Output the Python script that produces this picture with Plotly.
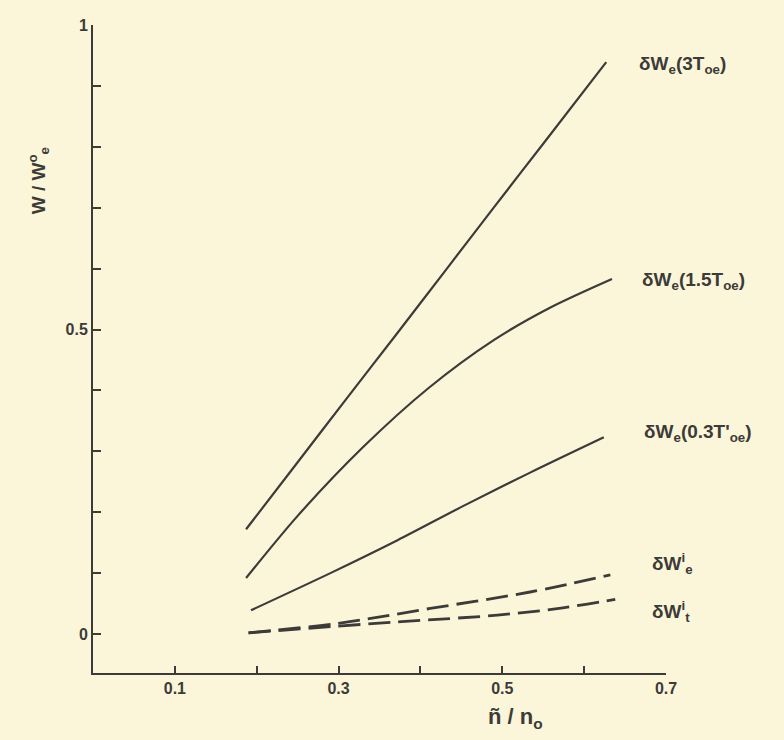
import plotly.graph_objects as go

# Data
x_3T = [0.187, 0.250, 0.310, 0.370, 0.430, 0.490, 0.550, 0.627]
y_3T = [0.172, 0.282, 0.387, 0.491, 0.596, 0.701, 0.805, 0.939]

x_15T = [0.187, 0.250, 0.330, 0.410, 0.490, 0.560, 0.634]
y_15T = [0.092, 0.194, 0.307, 0.404, 0.483, 0.537, 0.583]

x_03T = [0.193, 0.290, 0.372, 0.452, 0.534, 0.624]
y_03T = [0.039, 0.100, 0.154, 0.210, 0.265, 0.323]

x_Wei = [0.190, 0.302, 0.412, 0.534, 0.632]
y_Wei = [0.002, 0.018, 0.042, 0.069, 0.097]

x_Wti = [0.190, 0.372, 0.494, 0.574, 0.638]
y_Wti = [0.002, 0.020, 0.031, 0.043, 0.057]

x_ticks = [0.1, 0.3, 0.5, 0.7]
x_ticktext = ["0.1", "0.3", "0.5", "0.7"]
y_ticks = [0, 0.5, 1.0]
y_ticktext = ["0", "0.5", "1"]

labels = ["δW<sub>e</sub>(3T<sub>oe</sub>)", "δW<sub>e</sub>(1.5T<sub>oe</sub>)",
          "δW<sub>e</sub>(0.3T'<sub>oe</sub>)", "δW<sup>i</sup><sub>e</sub>",
          "δW<sup>i</sup><sub>t</sub>"]
label_x = [0.665, 0.668, 0.671, 0.680, 0.680]
label_y = [0.935, 0.580, 0.330, 0.115, 0.037]

ink = "#3d3b38"
bg = "#fbf6da"
font = "Liberation Sans"

fig = go.Figure()
solid = dict(color=ink, width=2.2, shape="spline", smoothing=0.8)
dash = dict(color=ink, width=2.8, shape="spline", dash="22px,8px")
fig.add_trace(go.Scatter(x=x_3T, y=y_3T, mode="lines", line=solid))
fig.add_trace(go.Scatter(x=x_15T, y=y_15T, mode="lines", line=solid))
fig.add_trace(go.Scatter(x=x_03T, y=y_03T, mode="lines", line=solid))
fig.add_trace(go.Scatter(x=x_Wei, y=y_Wei, mode="lines", line=dash))
fig.add_trace(go.Scatter(x=x_Wti, y=y_Wti, mode="lines", line=dash))

for t, lx, ly in zip(labels, label_x, label_y):
    fig.add_annotation(x=lx, y=ly, xref="x", yref="y", text=t, showarrow=False,
                       xanchor="left", yanchor="middle",
                       font=dict(family=font, size=19, color=ink, weight="bold"))

fig.add_annotation(x=-0.096, y=0.745, xref="paper", yref="y",
                   text="W / W<sup>o</sup><sub>e</sub>", textangle=-90, showarrow=False,
                   xanchor="center", yanchor="middle",
                   font=dict(family=font, size=19, color=ink, weight="bold"))
fig.add_annotation(x=0.516, y=-0.069, xref="x", yref="paper",
                   text="ñ / n<sub>o</sub>", showarrow=False, yanchor="middle",
                   font=dict(family=font, size=22, color=ink, weight="bold"))

fig.update_layout(
    width=784, height=740,
    margin=dict(l=93, r=118, t=25, b=67),
    paper_bgcolor=bg, plot_bgcolor=bg,
    showlegend=False,
    font=dict(family=font, size=14, color=ink),
)
fig.update_xaxes(range=[0, 0.7], showgrid=False, zeroline=False,
                 showline=True, linecolor=ink, linewidth=2,
                 ticks="inside", ticklen=7, tickwidth=2, tickcolor=ink,
                 tickvals=x_ticks, ticktext=x_ticktext,
                 minor=dict(tickvals=[0.2, 0.4, 0.6], ticks="inside", ticklen=7,
                            tickwidth=2, tickcolor=ink, showgrid=False),
                 tickfont=dict(family=font, size=16, color=ink, weight="bold"))
fig.update_yaxes(range=[-0.064, 1.0], showgrid=False, zeroline=False,
                 showline=True, linecolor=ink, linewidth=2,
                 ticks="inside", ticklen=8, tickwidth=2, tickcolor=ink,
                 tickvals=y_ticks, ticktext=y_ticktext,
                 minor=dict(tickvals=[0.1, 0.2, 0.3, 0.4, 0.6, 0.7, 0.8, 0.9],
                            ticks="inside", ticklen=8, tickwidth=2, tickcolor=ink,
                            showgrid=False),
                 tickfont=dict(family=font, size=16, color=ink, weight="bold"))

fig.write_html("out.html", config={"displayModeBar": False},
               post_script="document.body.style.margin='0';document.body.style.background='" + bg + "';")
